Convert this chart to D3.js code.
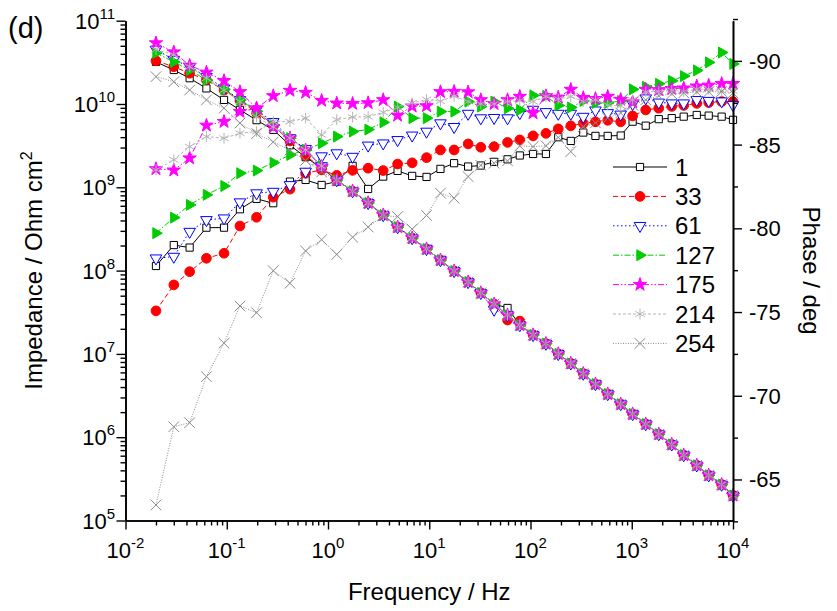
<!DOCTYPE html>
<html lang="en">
<head>
<meta charset="utf-8">
<title>Impedance and phase vs frequency</title>
<script src="https://cdn.jsdelivr.net/npm/d3@7"></script>
<style>
  body { margin: 0; background: #fff; }
  text { font-family: Arial, "Liberation Sans", sans-serif; fill: #000; }
</style>
</head>
<body>
<script>
// frequencies in Hz
var freq = [0.02, 0.03, 0.043, 0.063, 0.094, 0.135, 0.197, 0.288, 0.421, 0.601, 0.865,
    1.22, 1.75, 2.49, 3.51, 4.87, 6.78, 9.40, 12.9, 17.6, 24.2, 32.3, 43.7, 59.3, 78.4,
    106, 142, 188, 250, 332, 438, 579, 778, 1020, 1374, 1848, 2483, 3260, 4385, 5754, 7730, 10000];

var seriesNames = ["1", "33", "61", "127", "175", "214", "254"];

// impedance, low frequency part (first 11 points) for each series
var zLow1   = [3.2e10, 2.56e10, 2.04e10, 1.54e10, 1.12e10, 8.5e9, 6.4e9, 4.9e9, 3.2e9, 2.3e9, 1.7e9];
var zLow33  = [3.3e10, 2.8e10, 2.34e10, 1.94e10, 1.47e10, 1.1e10, 7.8e9, 5.5e9, 3.6e9, 2.4e9, 1.7e9];
var zLow61  = [4.5e10, 3.4e10, 2.8e10, 2.13e10, 1.54e10, 1.12e10, 8.5e9, 6.1e9, 3.9e9, 2.9e9, 1.8e9];
var zLow127 = [4.1e10, 3.2e10, 2.56e10, 1.94e10, 1.5e10, 1.12e10, 8.2e9, 5.6e9, 3.9e9, 2.8e9, 1.8e9];
var zLow175 = [5.4e10, 4.2e10, 2.9e10, 2.4e10, 1.9e10, 1.4e10, 8.9e9, 5.3e9, 3.9e9, 2.8e9, 1.77e9];
var zLow214 = [4.5e10, 3.9e10, 2.8e10, 2.04e10, 1.47e10, 1.07e10, 7.0e9, 5.3e9, 3.9e9, 2.8e9, 1.8e9];
var zLow254 = [2.13e10, 1.85e10, 1.47e10, 1.12e10, 8.9e9, 5.9e9, 4.4e9, 3.5e9, 2.8e9, 2.1e9, 1.53e9];

// impedance above ~1 Hz, where all curves overlap
var zHigh = [1.22e9, 9.0e8, 6.5e8, 4.65e8, 3.33e8, 2.46e8, 1.82e8, 1.34e8, 9.9e7, 7.3e7,
    5.4e7, 3.97e7, 2.93e7, 2.22e7, 1.69e7, 1.33e7, 1.0e7, 7.7e6, 5.8e6, 4.35e6,
    3.3e6, 2.5e6, 1.9e6, 1.44e6, 1.09e6, 8.2e5, 6.1e5, 4.6e5, 3.5e5, 2.7e5, 2.0e5];

// the few points that stand off the common curve: [series, point index, value]
var zOdd = [["61", 22, 3.4e7], ["1", 23, 3.56e7], ["33", 23, 2.55e7], ["33", 24, 2.48e7]];

// phase in degrees
var ph1 = [-77.75, -79.0, -78.85, -80.04, -80.04, -81.14, -81.76, -81.5, -82.79, -82.89, -82.59,
    -82.79, -83.73, -82.35, -83.09, -83.43, -83.13, -83.07, -83.55, -83.89, -83.69, -83.75,
    -83.97, -84.12, -84.35, -84.44, -84.44, -85.44, -85.22, -85.72, -85.52, -85.52, -85.54,
    -86.37, -86.13, -86.52, -86.58, -86.67, -86.77, -86.73, -86.67, -86.48];
var ph33 = [-75.07, -76.62, -77.41, -78.21, -78.51, -80.14, -80.66, -81.86, -82.34, -83.29, -83.49,
    -83.16, -83.46, -83.59, -83.45, -83.84, -83.91, -84.22, -84.68, -84.68, -85.04, -84.84,
    -84.88, -85.13, -85.28, -85.52, -85.67, -85.94, -86.12, -86.27, -86.36, -86.45, -86.36,
    -86.71, -87.07, -87.17, -87.28, -87.34, -87.46, -87.51, -87.57, -87.57];
var ph61 = [-78.21, -78.31, -79.8, -80.5, -80.6, -81.56, -82.1, -82.19, -82.59, -83.39, -84.31,
    -84.49, -84.28, -84.95, -85.08, -85.28, -85.55, -85.78, -86.28, -86.06, -86.85, -86.58,
    -86.6, -86.58, -86.89, -87.09, -86.95, -86.85, -86.85, -86.67, -87.05, -86.89, -86.8,
    -87.43, -87.77, -87.52, -87.47, -87.47, -87.67, -87.62, -87.59, -87.37];
var ph127 = [-79.71, -80.64, -81.4, -82.0, -82.53, -83.29, -83.45, -83.92, -84.38, -84.68, -85.08,
    -85.48, -85.78, -85.9, -86.33, -87.27, -86.58, -86.58, -86.97, -86.97, -87.57, -87.27,
    -87.57, -87.17, -87.07, -87.94, -87.91, -87.34, -87.22, -87.61, -87.49, -87.49, -87.61,
    -88.3, -88.45, -88.63, -88.81, -89.09, -89.43, -89.91, -90.5, -89.82];
var ph175 = [-83.55, -83.47, -84.19, -86.15, -86.37, -86.97, -87.17, -87.91, -88.23, -88.11, -87.63,
    -87.47, -87.45, -87.49, -87.67, -86.74, -87.29, -87.31, -88.15, -88.17, -88.14, -87.67,
    -87.44, -87.67, -87.87, -86.89, -87.91, -87.82, -88.29, -87.8, -87.74, -87.87, -87.69,
    -87.54, -88.29, -88.27, -88.34, -88.37, -88.49, -88.54, -88.64, -88.64];
var ph214 = [-83.49, -84.09, -84.88, -85.48, -85.38, -85.68, -85.78, -86.37, -86.37, -86.58, -85.58,
    -86.49, -86.64, -86.67, -86.92, -87.22, -87.49, -87.69, -87.59, -87.89, -87.57, -87.43,
    -87.43, -87.57, -87.62, -87.57, -87.87, -87.73, -87.87, -87.57, -87.67, -87.37, -87.31,
    -87.67, -88.15, -88.17, -88.24, -88.17, -88.31, -88.31, -88.21, -88.21];
var ph254 = [-63.48, -68.15, -68.39, -71.14, -73.14, -75.36, -74.96, -77.47, -76.72, -78.65, -79.32,
    -78.44, -79.47, -80.08, -80.74, -80.7, -79.95, -80.77, -82.1, -81.8, -83.09, -83.76,
    -83.89, -84.03, -84.92, -84.88, -84.93, -85.43, -84.58, -86.06, -86.3, -86.58, -86.89,
    -87.37, -87.67, -87.91, -88.03, -88.09, -88.15, -88.15, -88.17, -88.09];

var xTicks = [1e-2, 1e-1, 1e0, 1e1, 1e2, 1e3, 1e4];
var xTickExp = ["-2", "-1", "0", "1", "2", "3", "4"];
var zTicks = [1e5, 1e6, 1e7, 1e8, 1e9, 1e10, 1e11];
var zTickExp = ["5", "6", "7", "8", "9", "10", "11"];
var phTicks = [-65, -70, -75, -80, -85, -90];
var phMinor = [-62.5, -67.5, -72.5, -77.5, -82.5, -87.5, -92.5];

var w = 837, h = 611;
var plotL = 125.5, plotR = 733, plotT = 20.7, plotB = 520.5;

var styles = {
    "1":   {color: "#000000", dash: null,              sym: "square"},
    "33":  {color: "#ff0000", dash: "5,3",             sym: "circle"},
    "61":  {color: "#0000ff", dash: "1.5,2.5",         sym: "down"},
    "127": {color: "#00cc00", dash: "6,2,1.5,2",       sym: "right"},
    "175": {color: "#ff00ff", dash: "6,2,1.5,2,1.5,2", sym: "star"},
    "214": {color: "#b4b4b4", dash: "3,2",             sym: "asterisk"},
    "254": {color: "#8a8a8a", dash: "1,1.5",           sym: "times"}
};

var zLows = {"1": zLow1, "33": zLow33, "61": zLow61, "127": zLow127, "175": zLow175, "214": zLow214, "254": zLow254};
var phs = {"1": ph1, "33": ph33, "61": ph61, "127": ph127, "175": ph175, "214": ph214, "254": ph254};

var series = seriesNames.map(function(name) {
    var z = zLows[name].concat(zHigh);
    zOdd.forEach(function(o) { if (o[0] === name) z[o[1]] = o[2]; });
    return {
        name: name,
        z: freq.map(function(f, i) { return {f: f, v: z[i]}; }),
        ph: freq.map(function(f, i) { return {f: f, v: phs[name][i]}; })
    };
});

var x = d3.scaleLog().domain([1e-2, 1e4]).range([plotL, plotR]);
var yZ = d3.scaleLog().domain([1e5, 1e11]).range([plotB, plotT]);
var yP = d3.scaleLinear().domain([-62.55, -92.4]).range([plotB, plotT]);

var svg = d3.select("body").append("svg")
    .attr("width", w)
    .attr("height", h);

function symbolPath(kind) {
    if (kind === "square") return d3.symbol(d3.symbolSquare, 52)();
    if (kind === "circle") return d3.symbol(d3.symbolCircle, 74)();
    if (kind === "down") return d3.symbol(d3.symbolTriangle, 58)();
    if (kind === "right") return d3.symbol(d3.symbolTriangle, 52)();
    if (kind === "star") return d3.symbol(d3.symbolStar, 56)();
    if (kind === "asterisk") return d3.symbol(d3.symbolAsterisk, 80)();
    return d3.symbol(d3.symbolTimes, 75)();
}
function symbolRotate(kind) {
    if (kind === "down") return " rotate(180)";
    if (kind === "right") return " rotate(90)";
    return "";
}
function symbolFill(kind, color) {
    if (kind === "square" || kind === "down") return "#fff";
    if (kind === "asterisk" || kind === "times") return "none";
    return color;
}

function drawMarks(g, pts, yScale, st) {
    g.append("path")
        .datum(pts)
        .attr("fill", "none")
        .attr("stroke", st.color)
        .attr("stroke-width", 1)
        .attr("stroke-dasharray", st.dash)
        .attr("d", d3.line()
            .x(function(d) { return x(d.f); })
            .y(function(d) { return yScale(d.v); }));
    g.selectAll("path.mk")
        .data(pts)
        .enter()
        .append("path")
        .attr("class", "mk")
        .attr("d", symbolPath(st.sym))
        .attr("transform", function(d) {
            return "translate(" + x(d.f) + "," + yScale(d.v) + ")" + symbolRotate(st.sym);
        })
        .attr("fill", symbolFill(st.sym, st.color))
        .attr("stroke", st.color)
        .attr("stroke-width", 1);
}

series.forEach(function(s) {
    var st = styles[s.name];
    drawMarks(svg.append("g"), s.z, yZ, st);
    drawMarks(svg.append("g"), s.ph, yP, st);
});

// minor ticks for log axes
function minorLog(lo, hi) {
    var out = [];
    for (var e = lo; e < hi; e++) {
        for (var k = 2; k <= 9; k++) out.push(k * Math.pow(10, e));
    }
    return out;
}

var axisStyle = function(g) {
    g.select(".domain").attr("stroke-width", 1.6);
    g.selectAll(".tick line").attr("stroke-width", 1.4);
    g.selectAll("text").remove();
};

// x axis
svg.append("g").attr("transform", "translate(0," + plotB + ")")
    .call(d3.axisBottom(x).tickValues(minorLog(-2, 4)).tickSize(5).tickSizeOuter(0).tickFormat(""))
    .call(axisStyle);
svg.append("g").attr("transform", "translate(0," + plotB + ")")
    .call(d3.axisBottom(x).tickValues(xTicks).tickSize(9).tickSizeOuter(0).tickFormat(""))
    .call(axisStyle);

// left axis
svg.append("g").attr("transform", "translate(" + plotL + ",0)")
    .call(d3.axisLeft(yZ).tickValues(minorLog(5, 11)).tickSize(5).tickSizeOuter(0).tickFormat(""))
    .call(axisStyle);
svg.append("g").attr("transform", "translate(" + plotL + ",0)")
    .call(d3.axisLeft(yZ).tickValues(zTicks).tickSize(9).tickSizeOuter(0).tickFormat(""))
    .call(axisStyle);

// right axis
svg.append("g").attr("transform", "translate(" + plotR + ",0)")
    .call(d3.axisRight(yP).tickValues(phMinor).tickSize(5).tickSizeOuter(0).tickFormat(""))
    .call(axisStyle);
svg.append("g").attr("transform", "translate(" + plotR + ",0)")
    .call(d3.axisRight(yP).tickValues(phTicks).tickSize(9).tickSizeOuter(0).tickFormat(""))
    .call(axisStyle);

// tick labels with superscript exponents
xTicks.forEach(function(t, i) {
    var tx = svg.append("text")
        .attr("x", x(t))
        .attr("y", 558)
        .attr("text-anchor", "middle")
        .attr("font-size", "22px");
    tx.append("tspan").text("10");
    tx.append("tspan").attr("dy", -10).attr("font-size", "15px").text(xTickExp[i]);
});
zTicks.forEach(function(t, i) {
    var tx = svg.append("text")
        .attr("x", 115)
        .attr("y", yZ(t) + 8)
        .attr("text-anchor", "end")
        .attr("font-size", "22px");
    tx.append("tspan").text("10");
    tx.append("tspan").attr("dy", -10).attr("font-size", "15px").text(zTickExp[i]);
});
phTicks.forEach(function(t) {
    svg.append("text")
        .attr("x", 749)
        .attr("y", yP(t) + 8)
        .attr("font-size", "22px")
        .text(t);
});

// axis titles
svg.append("text")
    .attr("x", (plotL + plotR) / 2)
    .attr("y", 600)
    .attr("text-anchor", "middle")
    .attr("font-size", "24px")
    .text("Frequency / Hz");

var yt = svg.append("text")
    .attr("transform", "translate(42," + ((plotT + plotB) / 2) + ") rotate(-90)")
    .attr("text-anchor", "middle")
    .attr("font-size", "24px");
yt.append("tspan").text("Impedance / Ohm cm");
yt.append("tspan").attr("dy", -10).attr("font-size", "16px").text("2");

svg.append("text")
    .attr("transform", "translate(803," + ((plotT + plotB) / 2) + ") rotate(90)")
    .attr("text-anchor", "middle")
    .attr("font-size", "24px")
    .text("Phase / deg");

svg.append("text")
    .attr("x", 8)
    .attr("y", 38)
    .attr("font-size", "29px")
    .text("(d)");

// legend
var legend = svg.append("g");
seriesNames.forEach(function(name, i) {
    var st = styles[name];
    var ly = 167 + i * 29.4;
    legend.append("line")
        .attr("x1", 613).attr("x2", 667)
        .attr("y1", ly).attr("y2", ly)
        .attr("stroke", st.color)
        .attr("stroke-width", 1)
        .attr("stroke-dasharray", st.dash);
    legend.append("path")
        .attr("d", symbolPath(st.sym))
        .attr("transform", "translate(640," + ly + ")" + symbolRotate(st.sym))
        .attr("fill", symbolFill(st.sym, st.color))
        .attr("stroke", st.color);
    legend.append("text")
        .attr("x", 675)
        .attr("y", ly + 8.5)
        .attr("font-size", "24px")
        .text(name);
});
</script>
</body>
</html>
